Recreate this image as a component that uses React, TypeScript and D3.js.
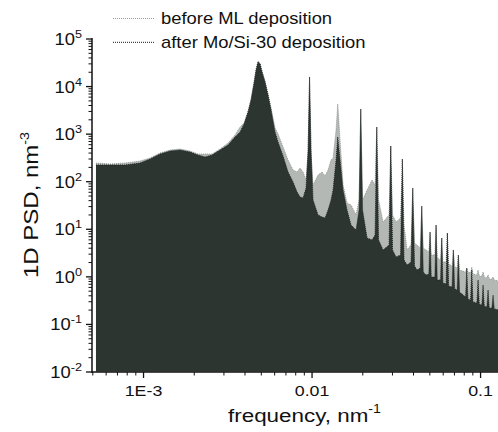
import React from "react";
import * as d3 from "d3";

// Frequency grid (nm^-1) shared by both series
const frequency = [
  5.22e-4, 6.33e-4, 7.77e-4, 9.53e-4, 1.093e-3, 1.253e-3, 1.437e-3, 1.647e-3, 1.888e-3, 2.106e-3,
  2.317e-3, 2.551e-3, 2.844e-3, 3.173e-3, 3.491e-3, 3.739e-3, 3.949e-3, 4.171e-3, 4.345e-3, 4.527e-3,
  4.652e-3, 4.781e-3, 4.914e-3, 5.05e-3, 5.261e-3, 5.482e-3, 5.712e-3, 6.031e-3, 6.284e-3, 6.73e-3,
  7.205e-3, 7.507e-3, 7.714e-3, 8.147e-3, 8.488e-3, 8.843e-3, 9.213e-3, 9.469e-3, 9.665e-3, 9.865e-3,
  0.010137, 0.010855, 0.011464, 0.011946, 0.012445, 0.012966, 0.013325, 0.013882, 0.014209, 0.014664,
  0.015276, 0.016133, 0.01704, 0.018245, 0.019008, 0.019455, 0.01994, 0.021207, 0.022709, 0.023659,
  0.024215, 0.024819, 0.02639, 0.028641, 0.029316, 0.03004, 0.031513, 0.033509, 0.034344, 0.035151,
  0.036622, 0.038676, 0.039586, 0.040573, 0.04197, 0.043861, 0.044771, 0.045698, 0.047487, 0.049338,
  0.050153, 0.05098, 0.053556, 0.05444, 0.055338, 0.057892, 0.058847, 0.059818, 0.062409, 0.063527,
  0.064664, 0.06774, 0.068953, 0.070189, 0.072628, 0.073826, 0.075058, 0.08147, 0.082816, 0.084182,
  0.087237, 0.088676, 0.090139, 0.095067, 0.096653, 0.098249, 0.10179, 0.10347, 0.10519, 0.10899,
  0.11079, 0.11262, 0.11669, 0.11862, 0.12058, 0.13055, 0.195,
];

// 1D PSD (nm^-3) before ML deposition
const psdBefore = [
  247, 236, 247, 272, 315, 401, 464, 487, 442, 382,
  382, 382, 487, 651, 959, 1413, 1715, 3065, 5480, 12480,
  23400, 34470, 31300, 21250, 13100, 6980, 3545, 1346, 1007, 537,
  286, 214, 176, 160, 194, 160, 109, 364, 15900, 364,
  85.3, 138, 160, 132, 176, 286, 315, 1222, 4300, 753,
  85.3, 35.7, 32.4, 20.0, 41.3, 3378, 41.3, 67.0, 109, 85.3,
  1413, 41.3, 14.2, 20.0, 563, 20.0, 14.2, 17.3, 300, 12.3,
  3.67, 4.67, 73.8, 5.15, 4.67, 4.04, 30.9, 4.04, 3.67, 3.33,
  8.77, 2.88, 2.88, 12.3, 2.49, 2.26, 6.56, 2.05, 2.05, 8.35,
  1.86, 1.69, 3.67, 1.61, 1.53, 2.88, 1.39, 1.26, 1.53, 1.26,
  1.20, 1.61, 1.15, 1.09, 1.39, 1.04, 1.04, 1.26, 0.99, 0.946,
  1.09, 0.901, 0.901, 0.99, 0.859, 0.818, 0.674,
];

// 1D PSD (nm^-3) after Mo/Si-30 deposition
const psdAfter = [
  225, 225, 225, 247, 300, 382, 442, 464, 421, 364,
  331, 364, 464, 591, 871, 1109, 1634, 2920, 5220, 11890,
  22300, 32860, 29820, 20250, 12480, 6650, 3217, 1109, 684, 347,
  160, 120, 98.6, 60.8, 47.7, 45.5, 73.8, 464, 15900, 464,
  41.3, 20.0, 18.1, 17.3, 25.4, 41.3, 67.0, 286, 871, 286,
  67.0, 25.4, 12.3, 9.66, 25.4, 3378, 25.4, 6.56, 5.95, 7.58,
  1413, 5.95, 3.67, 4.67, 563, 3.67, 2.61, 2.88, 300, 2.26,
  1.77, 2.05, 73.8, 1.69, 1.39, 1.53, 30.9, 1.26, 1.09, 1.15,
  8.77, 0.99, 0.99, 12.3, 0.859, 0.859, 6.56, 0.743, 0.707, 8.35,
  0.642, 0.612, 3.67, 0.555, 0.529, 2.88, 0.48, 0.377, 1.53, 0.342,
  0.326, 1.39, 0.296, 0.282, 0.859, 0.269, 0.256, 0.674, 0.244, 0.232,
  0.529, 0.221, 0.221, 0.415, 0.211, 0.201, 0.15,
];

const yExponents = [-2, -1, 0, 1, 2, 3, 4, 5];
const xTickValues = [1e-3, 1e-2, 1e-1];
const xTickLabels = ["1E-3", "0.01", "0.1"];
const legendLabels = ["before ML deposition", "after Mo/Si-30 deposition"];

const W = 498;
const H = 432;
const FONT = "'Liberation Sans', Arial, Helvetica, sans-serif";

function SText({ x, y, s = 1.15, rotate = 0, anchor = "start", size, children }: any) {
  return (
    <g transform={`translate(${x},${y})${rotate ? ` rotate(${rotate})` : ""} scale(${s},1)`}>
      <text textAnchor={anchor} fontSize={size} fontFamily={FONT} fill="#111">
        {children}
      </text>
    </g>
  );
}

export default function App() {
  const x = d3.scaleLog().domain([5e-4, 0.2]).range([92.8, 531.3]);
  const y = d3.scaleLog().domain([1e-2, 1e5]).range([372, 39]);
  const axisX = 92;
  const axisY = 372;

  const pts = frequency.map((f, i) => ({ f, b: psdBefore[i], a: psdAfter[i] }));
  const areaB = d3
    .area<any>()
    .x((d) => x(d.f))
    .y0(axisY - 0.5)
    .y1((d) => y(d.b));
  const areaA = d3
    .area<any>()
    .x((d) => x(d.f))
    .y0(axisY - 0.5)
    .y1((d) => y(d.a));
  const lineB = d3.line<any>().x((d) => x(d.f)).y((d) => y(d.b));
  const lineA = d3.line<any>().x((d) => x(d.f)).y((d) => y(d.a));

  const yMinor: number[] = [];
  for (let e = -2; e < 5; e++) for (let m = 2; m <= 9; m++) yMinor.push(m * Math.pow(10, e));
  const xMinor: number[] = [];
  for (let e = -4; e < 0; e++)
    for (let m = 2; m <= 9; m++) {
      const v = m * Math.pow(10, e);
      if (v >= 5e-4 && x(v) <= W) xMinor.push(v);
    }

  const dark = "#2d3530";
  const light = "#b3b8b5";

  return (
    <svg
      width={W}
      height={H}
      style={{ position: "absolute", left: 0, top: 0, background: "#fff" }}
    >
      <defs>
        <clipPath id="plot">
          <rect x={95.5} y={0} width={W} height={axisY} />
        </clipPath>
      </defs>
      <g clipPath="url(#plot)">
        <path d={areaB(pts) || ""} fill={light} />
        <path d={lineB(pts) || ""} fill="none" stroke="#8c918e" strokeWidth={0.9} strokeDasharray="1 1" />
        <path d={areaA(pts) || ""} fill={dark} />
        <path d={lineA(pts) || ""} fill="none" stroke="#1c211e" strokeWidth={0.9} strokeDasharray="1 1" />
      </g>

      {/* axes */}
      <line x1={axisX} x2={axisX} y1={38} y2={axisY + 0.75} stroke="#111" strokeWidth={1.5} />
      <line x1={axisX - 0.75} x2={W} y1={axisY} y2={axisY} stroke="#111" strokeWidth={1.5} />
      {yExponents.map((e) => (
        <line key={"ym" + e} x1={axisX - 6} x2={axisX} y1={y(Math.pow(10, e))} y2={y(Math.pow(10, e))} stroke="#111" strokeWidth={1.3} />
      ))}
      {yMinor.map((v, i) => (
        <line key={"yn" + i} x1={axisX - 3.5} x2={axisX} y1={y(v)} y2={y(v)} stroke="#111" strokeWidth={1} />
      ))}
      {xTickValues.map((v) => (
        <line key={"xm" + v} x1={x(v)} x2={x(v)} y1={axisY} y2={axisY + 6} stroke="#111" strokeWidth={1.3} />
      ))}
      {xMinor.map((v, i) => (
        <line key={"xn" + i} x1={x(v)} x2={x(v)} y1={axisY} y2={axisY + 3.5} stroke="#111" strokeWidth={1} />
      ))}

      {/* tick labels */}
      {yExponents.map((e) => (
        <SText key={"yl" + e} x={82} y={y(Math.pow(10, e)) + 6} anchor="end" size={16}>
          10
          <tspan dy={-7} fontSize={11}>
            {String(e)}
          </tspan>
        </SText>
      ))}
      {xTickValues.map((v, i) => (
        <SText key={"xl" + v} x={x(v)} y={396} anchor="middle" size={15.5}>
          {xTickLabels[i]}
        </SText>
      ))}

      {/* axis titles */}
      <SText x={228} y={422} s={1.18} size={19}>
        frequency, nm
        <tspan dy={-9} fontSize={12}>
          -1
        </tspan>
      </SText>
      <SText x={38} y={278} s={1.2} rotate={-90} size={20}>
        1D PSD, nm
        <tspan dy={-9} fontSize={12}>
          -3
        </tspan>
      </SText>

      {/* legend */}
      <line x1={113} x2={155} y1={18.5} y2={18.5} stroke="#9a9e9c" strokeWidth={1.2} strokeDasharray="1 1" />
      <SText x={161} y={24} size={16}>
        {legendLabels[0]}
      </SText>
      <line x1={113} x2={155} y1={42.3} y2={42.3} stroke="#444" strokeWidth={1.2} strokeDasharray="1 1" />
      <SText x={161} y={48} size={16}>
        {legendLabels[1]}
      </SText>
    </svg>
  );
}
